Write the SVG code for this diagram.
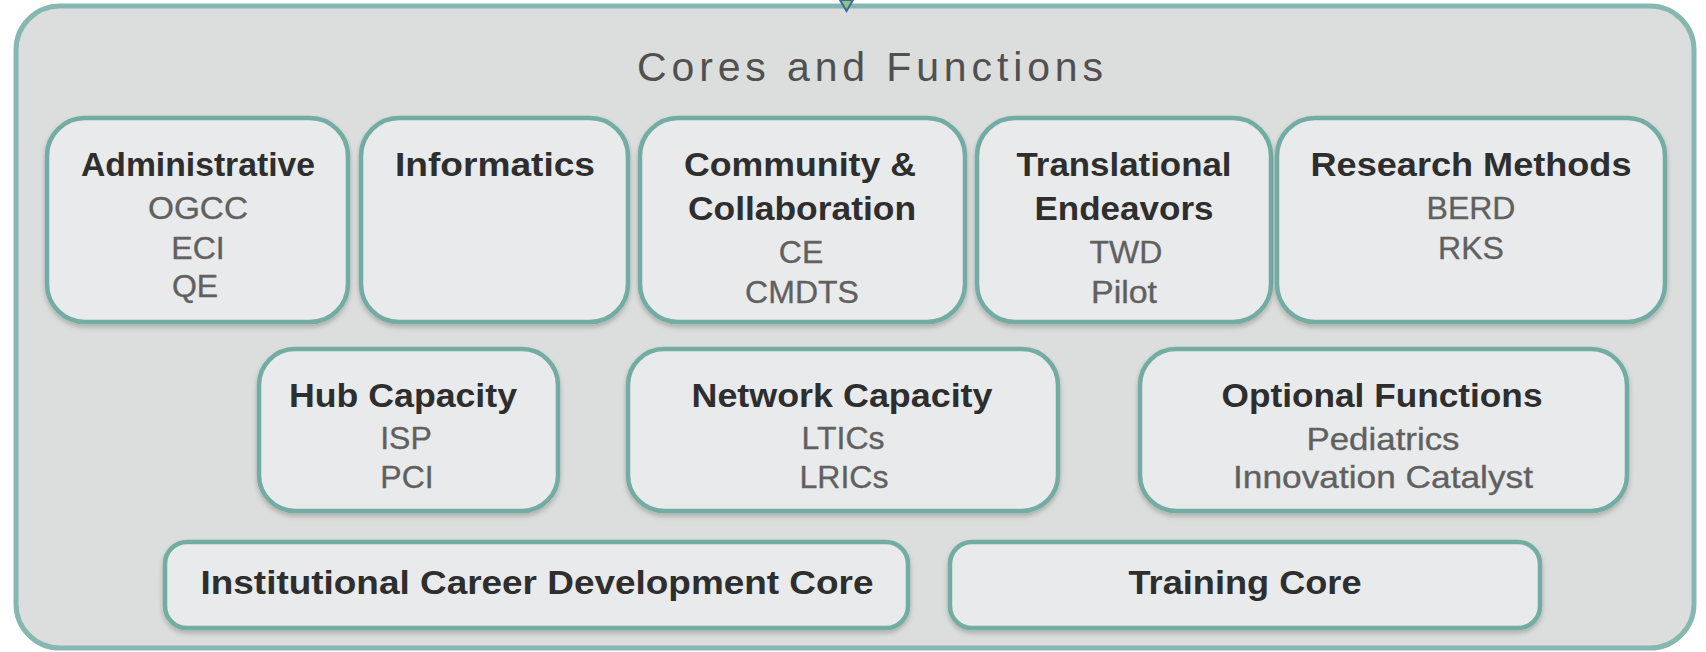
<svg xmlns="http://www.w3.org/2000/svg" width="1706" height="652" viewBox="0 0 1706 652">
<style>
.outer{fill:#dcdddd;stroke:#86b8b1;stroke-width:5}
.box{fill:#e9eaeb;stroke:#72aca3;stroke-width:4.5;filter:url(#sh)}
.h{font-family:"Liberation Sans",Arial,sans-serif;font-weight:bold;font-size:34px;fill:#2e2e2e;text-anchor:middle}
.s{font-family:"Liberation Sans",Arial,sans-serif;font-size:32px;fill:#5f5f5f;stroke:#6a6a6a;stroke-width:0.4;text-anchor:middle}
.t{font-family:"Liberation Sans",Arial,sans-serif;font-size:41px;fill:#505050;text-anchor:middle}
</style>
<defs>
<filter id="sh" x="-10%" y="-10%" width="120%" height="130%">
<feDropShadow dx="0" dy="3" stdDeviation="2.5" flood-color="#000" flood-opacity="0.22"/>
</filter>
</defs>
<rect width="1706" height="652" fill="#ffffff"/>
<g id="container">
<rect class="outer" x="16" y="6" width="1678" height="642" rx="44" ry="44"/>
<text class="t" x="870" y="81" textLength="466">Cores and Functions</text>
</g>
<g id="connectors">
<polygon points="840,0 853,0 846.5,11" fill="#8fc47a" stroke="#3d6aa3" stroke-width="2"/>
</g>
<g id="administrative">
<rect class="box" x="47" y="118" width="301" height="204" rx="38"/>
<text class="h" x="198" y="176" textLength="234" lengthAdjust="spacingAndGlyphs">Administrative</text>
<text class="s" x="198" y="219" textLength="100" lengthAdjust="spacingAndGlyphs">OGCC</text>
<text class="s" x="198" y="259">ECI</text>
<text class="s" x="195" y="297">QE</text>
</g>
<g id="informatics">
<rect class="box" x="361" y="118" width="267" height="204" rx="38"/>
<text class="h" x="495" y="176" textLength="200" lengthAdjust="spacingAndGlyphs">Informatics</text>
</g>
<g id="community">
<rect class="box" x="640" y="118" width="325" height="204" rx="38"/>
<text class="h" x="800" y="176" textLength="232" lengthAdjust="spacingAndGlyphs">Community &amp;</text>
<text class="h" x="802" y="220" textLength="228" lengthAdjust="spacingAndGlyphs">Collaboration</text>
<text class="s" x="801" y="263">CE</text>
<text class="s" x="802" y="303">CMDTS</text>
</g>
<g id="translational">
<rect class="box" x="977" y="118" width="294" height="204" rx="38"/>
<text class="h" x="1124" y="176" textLength="215" lengthAdjust="spacingAndGlyphs">Translational</text>
<text class="h" x="1124" y="220" textLength="179" lengthAdjust="spacingAndGlyphs">Endeavors</text>
<text class="s" x="1126" y="263">TWD</text>
<text class="s" x="1124" y="303" textLength="66" lengthAdjust="spacingAndGlyphs">Pilot</text>
</g>
<g id="research">
<rect class="box" x="1277" y="118" width="388" height="204" rx="38"/>
<text class="h" x="1471" y="176" textLength="321" lengthAdjust="spacingAndGlyphs">Research Methods</text>
<text class="s" x="1471" y="219">BERD</text>
<text class="s" x="1471" y="259">RKS</text>
</g>
<g id="hub">
<rect class="box" x="259" y="349" width="299" height="162" rx="36"/>
<text class="h" x="403" y="407" textLength="228" lengthAdjust="spacingAndGlyphs">Hub Capacity</text>
<text class="s" x="406" y="449">ISP</text>
<text class="s" x="407" y="488">PCI</text>
</g>
<g id="network">
<rect class="box" x="628" y="349" width="430" height="162" rx="36"/>
<text class="h" x="842" y="407" textLength="301" lengthAdjust="spacingAndGlyphs">Network Capacity</text>
<text class="s" x="843" y="449">LTICs</text>
<text class="s" x="844" y="488">LRICs</text>
</g>
<g id="optional">
<rect class="box" x="1140" y="349" width="487" height="162" rx="36"/>
<text class="h" x="1382" y="407" textLength="321" lengthAdjust="spacingAndGlyphs">Optional Functions</text>
<text class="s" x="1383" y="450" textLength="153" lengthAdjust="spacingAndGlyphs">Pediatrics</text>
<text class="s" x="1383" y="488" textLength="300" lengthAdjust="spacingAndGlyphs">Innovation Catalyst</text>
</g>
<g id="icdc">
<rect class="box" x="165" y="542" width="743" height="86" rx="22"/>
<text class="h" x="537" y="594" textLength="673" lengthAdjust="spacingAndGlyphs">Institutional Career Development Core</text>
</g>
<g id="training">
<rect class="box" x="950" y="542" width="590" height="86" rx="22"/>
<text class="h" x="1245" y="594" textLength="233" lengthAdjust="spacingAndGlyphs">Training Core</text>
</g>
</svg>
